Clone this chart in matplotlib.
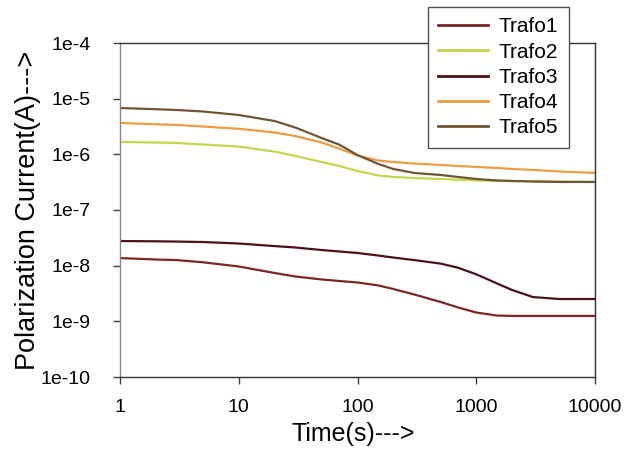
import numpy as np
import matplotlib
matplotlib.use("Agg")
import matplotlib.pyplot as plt
from matplotlib.ticker import FixedLocator, FixedFormatter, NullLocator

# time axis (s) and polarization currents (A)
time_s = [1, 2, 3, 5, 10, 20, 30, 50, 70, 100, 150, 200, 300, 500, 700,
          1000, 1500, 2000, 3000, 5000, 10000]
trafo1 = [1.37e-8, 1.29e-8, 1.26e-8, 1.15e-8, 9.67e-9, 7.39e-9, 6.39e-9,
          5.65e-9, 5.31e-9, 4.99e-9, 4.41e-9, 3.81e-9, 3.04e-9, 2.23e-9,
          1.78e-9, 1.44e-9, 1.27e-9, 1.25e-9, 1.25e-9, 1.25e-9, 1.25e-9]
trafo2 = [1.67e-6, 1.63e-6, 1.60e-6, 1.50e-6, 1.38e-6, 1.12e-6, 9.33e-7,
          7.28e-7, 6.18e-7, 5.02e-7, 4.17e-7, 3.92e-7, 3.76e-7, 3.61e-7,
          3.50e-7, 3.39e-7, 3.35e-7, 3.32e-7, 3.28e-7, 3.25e-7, 3.19e-7]
trafo3 = [2.77e-8, 2.74e-8, 2.71e-8, 2.66e-8, 2.50e-8, 2.25e-8, 2.12e-8,
          1.91e-8, 1.80e-8, 1.69e-8, 1.52e-8, 1.40e-8, 1.26e-8, 1.09e-8,
          9.2e-9, 7.0e-9, 4.78e-9, 3.66e-9, 2.73e-9, 2.52e-9, 2.52e-9]
trafo4 = [3.66e-6, 3.47e-6, 3.37e-6, 3.16e-6, 2.88e-6, 2.47e-6, 2.13e-6,
          1.63e-6, 1.27e-6, 9.53e-7, 7.74e-7, 7.28e-7, 6.84e-7, 6.44e-7,
          6.18e-7, 5.93e-7, 5.69e-7, 5.46e-7, 5.24e-7, 4.92e-7, 4.63e-7]
trafo5 = [6.79e-6, 6.47e-6, 6.26e-6, 5.88e-6, 5.09e-6, 3.97e-6, 3.03e-6,
          1.96e-6, 1.50e-6, 9.7e-7, 6.71e-7, 5.46e-7, 4.63e-7, 4.26e-7,
          3.92e-7, 3.61e-7, 3.39e-7, 3.32e-7, 3.25e-7, 3.19e-7, 3.19e-7]

labels = ["Trafo1", "Trafo2", "Trafo3", "Trafo4", "Trafo5"]
colors = ["#7c2626", "#c4d64a", "#4e1018", "#eb9e3e", "#6e5634"]

x_ticks = [1, 10, 100, 1000, 10000]
x_ticklabels = ["1", "10", "100", "1000", "10000"]
y_ticks = [1e-10, 1e-9, 1e-8, 1e-7, 1e-6, 1e-5, 1e-4]
y_ticklabels = ["1e-10", "1e-9", "1e-8", "1e-7", "1e-6", "1e-5", "1e-4"]

plt.rcParams['font.family'] = ['Liberation Sans', 'DejaVu Sans']

fig = plt.figure(figsize=(6.24, 4.57), dpi=100)
ax = fig.add_axes([120/624, 1-377/457, 475/624, 334/457])

series = [trafo1, trafo2, trafo3, trafo4, trafo5]
for vals, lab, col in zip(series, labels, colors):
    ax.plot(time_s, vals, color=col, lw=1.6, label=lab)

ax.set_xscale("log")
ax.set_yscale("log")
ax.set_xlim(1, 10000)
ax.set_ylim(1e-10, 1e-4)

ax.xaxis.set_major_locator(FixedLocator(x_ticks))
ax.xaxis.set_major_formatter(FixedFormatter(x_ticklabels))
ax.xaxis.set_minor_locator(NullLocator())
ax.yaxis.set_major_locator(FixedLocator(y_ticks))
ax.yaxis.set_major_formatter(FixedFormatter(y_ticklabels))
ax.yaxis.set_minor_locator(NullLocator())

ax.tick_params(axis="both", direction="out", length=5, width=1,
               color="#404040", labelsize=14)
ax.tick_params(axis="y", pad=16)
ax.tick_params(axis="x", pad=11)

ax.spines["left"].set_color("#888888")
for s in ["bottom", "top", "right"]:
    ax.spines[s].set_color("#303030")
for s in ax.spines.values():
    s.set_linewidth(1)

ax.set_xlabel("Time(s)--->", fontsize=18)
ax.xaxis.set_label_coords(0.49, -0.135)
ax.set_ylabel("Polarization Current(A)--->", fontsize=19.5, labelpad=0)

leg = ax.legend(loc="upper left", bbox_to_anchor=(428/624, 1-7/457),
                bbox_transform=fig.transFigure, borderaxespad=0,
                fontsize=15, frameon=True, fancybox=False, framealpha=1,
                handlelength=2.4, handletextpad=0.5, labelspacing=0.3,
                borderpad=0.5)
leg.get_frame().set_edgecolor("#505050")
leg.get_frame().set_linewidth(1)
for line in leg.get_lines():
    line.set_linewidth(2)

fig.savefig("out.png", dpi=100)
